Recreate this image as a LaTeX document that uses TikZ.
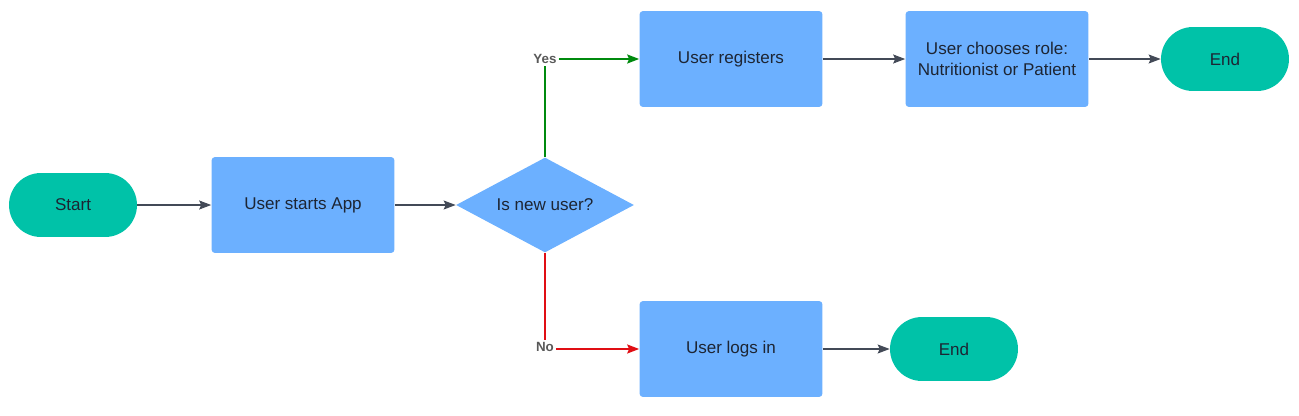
\documentclass[tikz,border=0pt]{standalone}
\usepackage{fontspec}
\setmainfont{Liberation Sans}
\usepackage{xcolor}
\usetikzlibrary{shapes.geometric,arrows.meta}

\definecolor{boxblue}{HTML}{6CB0FF}
\definecolor{endteal}{HTML}{00C2A8}
\definecolor{linegray}{HTML}{434A57}
\definecolor{textdark}{HTML}{1D2533}
\definecolor{yesgreen}{HTML}{008A0E}
\definecolor{nored}{HTML}{E00E14}

\begin{document}
\begin{tikzpicture}[x=0.02cm,y=-0.02cm,
    font=\fontsize{9.7}{12}\selectfont, text=textdark,
    process/.style={rectangle, fill=boxblue, rounded corners=2pt, minimum width=3.66cm, minimum height=1.92cm, align=center, inner sep=0pt},
    terminal/.style={rectangle, fill=endteal, rounded corners=0.64cm, minimum width=2.56cm, minimum height=1.28cm, inner sep=0pt},
    decision/.style={diamond, fill=boxblue, minimum width=3.56cm, minimum height=1.9cm, aspect=1.87, inner sep=0pt},
    branch/.style={font=\fontsize{7.6}{9}\bfseries\selectfont, text=black!65, inner sep=1pt},
    flow/.style={draw=linegray, line width=0.6pt, -{Stealth[length=2.4mm,width=1.8mm,inset=0.4mm]}}]
    % Fix the page to the picture size
    \useasboundingbox (0,0) rectangle (1299,416);

    % Draw the main row
    \node[terminal] (start) at (73,205) {Start};
    \node[process] (app) at (303,205) {User starts App};
    \node[decision] (newuser) at (545,205) {Is new user?};

    % Draw the upper branch
    \node[process] (register) at (731,59) {User registers};
    \node[process] (role) at (997,59) {User chooses role:\\Nutritionist or Patient};
    \node[terminal] (endtop) at (1225,59) {End};

    % Draw the lower branch
    \node[process] (login) at (731,349) {User logs in};
    \node[terminal] (endbottom) at (954,349) {End};

    % Branch labels
    \node[branch] (yes) at (545,59) {Yes};
    \node[branch] (no) at (545,347) {No};

    % Draw the connectors
    \draw[flow] (start) -- (app);
    \draw[flow] (app) -- (newuser);
    \draw[draw=yesgreen, line width=1.1pt] (newuser.north) -- (yes.south);
    \draw[flow, draw=yesgreen, fill=yesgreen, line width=1.1pt] (yes.east |- register.west) -- (register.west);
    \draw[draw=nored, line width=1.1pt] (newuser.south) -- (no.north);
    \draw[flow, draw=nored, fill=nored, line width=1.1pt] (no.east |- login.west) -- (login.west);
    \draw[flow] (register) -- (role);
    \draw[flow] (role) -- (endtop);
    \draw[flow] (login) -- (endbottom);
\end{tikzpicture}
\end{document}
